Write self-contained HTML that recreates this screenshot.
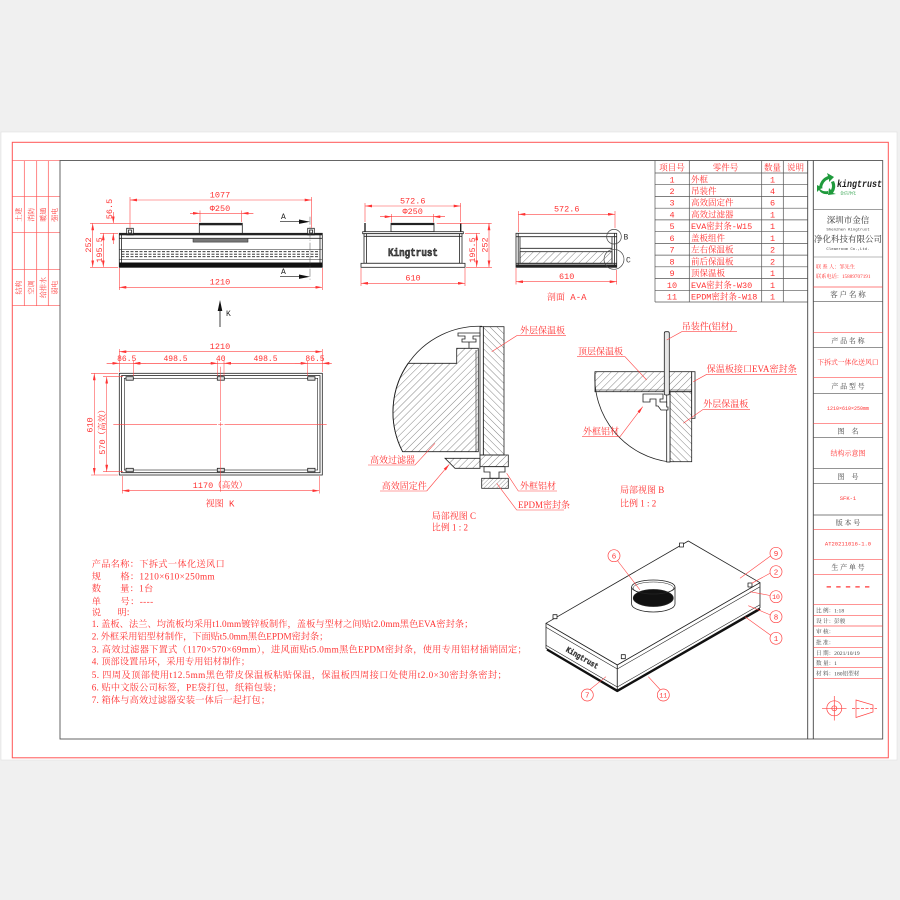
<!DOCTYPE html>
<html><head><meta charset="utf-8">
<style>
html,body{margin:0;padding:0;background:#f0f0f0;}
svg{display:block}
text{font-family:"Liberation Mono","Noto Serif CJK SC",monospace;}
.cj{font-family:"Liberation Serif","Noto Serif CJK SC",serif;}
</style></head><body>
<svg width="900" height="900" viewBox="0 0 900 900" xmlns="http://www.w3.org/2000/svg">
<defs>
<marker id="ar" viewBox="0 0 10 4" refX="10" refY="2" markerWidth="7" markerHeight="2.8" markerUnits="userSpaceOnUse" orient="auto-start-reverse"><path d="M0,0L10,2L0,4z" fill="#f33"/></marker>
<pattern id="hf" width="5" height="5" patternUnits="userSpaceOnUse" patternTransform="rotate(45)"><line x1="0" y1="0" x2="0" y2="5" stroke="#333" stroke-width="0.6"/></pattern>
<pattern id="hb" width="5" height="5" patternUnits="userSpaceOnUse" patternTransform="rotate(-45)"><line x1="0" y1="0" x2="0" y2="5" stroke="#333" stroke-width="0.6"/></pattern>
<pattern id="hs" width="3" height="3" patternUnits="userSpaceOnUse" patternTransform="rotate(45)"><line x1="0" y1="0" x2="0" y2="3" stroke="#333" stroke-width="0.5"/></pattern>
</defs>

<rect width="900" height="900" fill="#f0f0f0"/>
<rect x="1" y="132" width="896" height="628" fill="#fff" stroke="#e0e0e0" stroke-width="0.6"/>

<!-- frame -->
<rect x="12.3" y="142.3" width="876" height="615.5" fill="none" stroke="#f55" stroke-width="1"/>
<g stroke="#f55" stroke-width="0.7">
<line x1="12.3" y1="160.7" x2="60" y2="160.7"/>
<line x1="24.3" y1="160.7" x2="24.3" y2="305.7"/>
<line x1="36.7" y1="160.7" x2="36.7" y2="305.7"/>
<line x1="48.3" y1="160.7" x2="48.3" y2="305.7"/>
<line x1="12.3" y1="196.7" x2="60" y2="196.7"/>
<line x1="12.3" y1="232.7" x2="60" y2="232.7"/>
<line x1="12.3" y1="269.3" x2="60" y2="269.3"/>
<line x1="12.3" y1="305.7" x2="60" y2="305.7"/>
</g>
<g fill="#f33" font-size="7" text-anchor="middle" class="cj">
<text transform="translate(21,214.7) rotate(-90)" class="cj">土建</text>
<text transform="translate(33.3,214.7) rotate(-90)" class="cj">消防</text>
<text transform="translate(45.3,214.7) rotate(-90)" class="cj">暖通</text>
<text transform="translate(57,214.7) rotate(-90)" class="cj">强电</text>
<text transform="translate(21,287.5) rotate(-90)" class="cj">结构</text>
<text transform="translate(33.3,287.5) rotate(-90)" class="cj">空调</text>
<text transform="translate(45.3,287.5) rotate(-90)" class="cj">给排水</text>
<text transform="translate(57,287.5) rotate(-90)" class="cj">弱电</text>
</g>
<rect x="60" y="160.5" width="822.7" height="578.5" fill="none" stroke="#555" stroke-width="0.9"/>
<line x1="807.7" y1="160.5" x2="807.7" y2="739" stroke="#444" stroke-width="0.9"/>
<line x1="813.3" y1="160.5" x2="813.3" y2="739" stroke="#444" stroke-width="0.9"/>

<!-- parts table -->
<g stroke="#555" stroke-width="0.7">
<line x1="655" y1="160.7" x2="655" y2="302"/>
<line x1="689.3" y1="160.7" x2="689.3" y2="302"/>
<line x1="761.7" y1="160.7" x2="761.7" y2="302"/>
<line x1="783.3" y1="160.7" x2="783.3" y2="302"/>
<line x1="655" y1="173" x2="807.7" y2="173"/>
<line x1="655" y1="184.7" x2="807.7" y2="184.7"/>
<line x1="655" y1="196.5" x2="807.7" y2="196.5"/>
<line x1="655" y1="208.2" x2="807.7" y2="208.2"/>
<line x1="655" y1="219.9" x2="807.7" y2="219.9"/>
<line x1="655" y1="231.7" x2="807.7" y2="231.7"/>
<line x1="655" y1="243.4" x2="807.7" y2="243.4"/>
<line x1="655" y1="255.1" x2="807.7" y2="255.1"/>
<line x1="655" y1="266.8" x2="807.7" y2="266.8"/>
<line x1="655" y1="278.6" x2="807.7" y2="278.6"/>
<line x1="655" y1="290.3" x2="807.7" y2="290.3"/>
<line x1="655" y1="302" x2="807.7" y2="302"/>
</g>
<g fill="#f33" font-size="8.5" class="cj">
<text x="672" y="170.3" text-anchor="middle" class="cj">项目号</text>
<text x="725.5" y="170.3" text-anchor="middle" class="cj">零件号</text>
<text x="772.5" y="170.3" text-anchor="middle" class="cj">数量</text>
<text x="795.5" y="170.3" text-anchor="middle" class="cj">说明</text>
</g>
<g fill="#f33" font-size="8.5">
<g text-anchor="middle">
<text x="672" y="182.3">1</text><text x="672" y="194">2</text><text x="672" y="205.7">3</text><text x="672" y="217.4">4</text><text x="672" y="229.1">5</text><text x="672" y="240.9">6</text><text x="672" y="252.6">7</text><text x="672" y="264.3">8</text><text x="672" y="276">9</text><text x="672" y="287.8">10</text><text x="672" y="299.3">11</text>
<text x="772.5" y="182.3">1</text><text x="772.5" y="194">4</text><text x="772.5" y="205.7">6</text><text x="772.5" y="217.4">1</text><text x="772.5" y="229.1">1</text><text x="772.5" y="240.9">1</text><text x="772.5" y="252.6">2</text><text x="772.5" y="264.3">2</text><text x="772.5" y="276">1</text><text x="772.5" y="287.8">1</text><text x="772.5" y="299.3">1</text>
</g>
<text x="691" y="182.3">外框</text>
<text x="691" y="194">吊装件</text>
<text x="691" y="205.7">高效固定件</text>
<text x="691" y="217.4">高效过滤器</text>
<text x="691" y="229.1">EVA密封条-W15</text>
<text x="691" y="240.9">盖板组件</text>
<text x="691" y="252.6">左右保温板</text>
<text x="691" y="264.3">前后保温板</text>
<text x="691" y="276">顶保温板</text>
<text x="691" y="287.8">EVA密封条-W30</text>
<text x="691" y="299.3">EPDM密封条-W18</text>
</g>

<!-- title block -->
<path d="M819,188 q1,-9 9,-12 l-1,-3 l7,4 l-5,5 l0,-3 q-6,2 -7,9 z" fill="#1f9a3c"/>
<path d="M834,181 q3,6 -1,12 l3,1 l-8,1 l1,-7 l2,2 q2,-4 0,-8 z" fill="#1f9a3c"/>
<path d="M828,194 q-6,1 -9,-4 l-2,2 l0,-7 l6,3 l-3,1 q3,3 8,2 z" fill="#1f9a3c"/>
<text x="837" y="187" font-family="Liberation Sans" font-weight="bold" font-style="italic" font-size="10" fill="#222" textLength="45" lengthAdjust="spacingAndGlyphs">kingtrust</text>
<text x="840" y="194.5" font-size="4" fill="#1f9a3c" class="cj">金信净化</text>
<line x1="813.3" y1="209.7" x2="882.7" y2="209.7" stroke="#666" stroke-width="0.6"/>
<text x="848" y="223" font-size="8.5" fill="#333" text-anchor="middle" class="cj">深圳市金信</text>
<text x="848" y="230.5" font-size="4" fill="#444" text-anchor="middle">Shenzhen Kingtrust</text>
<text x="848" y="242" font-size="8.5" fill="#333" text-anchor="middle" class="cj" textLength="68" lengthAdjust="spacingAndGlyphs">净化科技有限公司</text>
<text x="848" y="250" font-size="4" fill="#444" text-anchor="middle">Cleanroom Co.,Ltd.</text>
<line x1="813.3" y1="257" x2="882.7" y2="257" stroke="#777" stroke-width="0.6"/>
<text x="816" y="268.5" font-size="5.2" fill="#f33" class="cj">联 系 人：邹先生</text>
<text x="816" y="278" font-size="5.2" fill="#f33" class="cj">联系电话：15889707191</text>
<line x1="813.3" y1="287" x2="882.7" y2="287" stroke="#f55" stroke-width="0.7"/>
<text x="848" y="297" font-size="7.5" fill="#444" text-anchor="middle" class="cj">客 户 名 称</text>
<line x1="813.3" y1="301.3" x2="882.7" y2="301.3" stroke="#555" stroke-width="0.7"/>

<g stroke-width="0.7">
<line x1="813.3" y1="332.7" x2="882.7" y2="332.7" stroke="#f55"/>
<line x1="813.3" y1="347.7" x2="882.7" y2="347.7" stroke="#555"/>
<line x1="813.3" y1="377.7" x2="882.7" y2="377.7" stroke="#f55"/>
<line x1="813.3" y1="393.3" x2="882.7" y2="393.3" stroke="#555"/>
<line x1="813.3" y1="423.3" x2="882.7" y2="423.3" stroke="#f55"/>
<line x1="813.3" y1="437.7" x2="882.7" y2="437.7" stroke="#555"/>
<line x1="813.3" y1="468.3" x2="882.7" y2="468.3" stroke="#555"/>
<line x1="813.3" y1="483.3" x2="882.7" y2="483.3" stroke="#555"/>
<line x1="813.3" y1="515" x2="882.7" y2="515" stroke="#555"/>
<line x1="813.3" y1="529.3" x2="882.7" y2="529.3" stroke="#f55"/>
<line x1="813.3" y1="559.3" x2="882.7" y2="559.3" stroke="#f55"/>
<line x1="813.3" y1="574.3" x2="882.7" y2="574.3" stroke="#f55"/>
<line x1="813.3" y1="604.3" x2="882.7" y2="604.3" stroke="#f55"/>
<line x1="813.3" y1="615.3" x2="882.7" y2="615.3" stroke="#f55"/>
<line x1="813.3" y1="626" x2="882.7" y2="626" stroke="#f55"/>
<line x1="813.3" y1="636.7" x2="882.7" y2="636.7" stroke="#f55"/>
<line x1="813.3" y1="647.3" x2="882.7" y2="647.3" stroke="#f55"/>
<line x1="813.3" y1="657.7" x2="882.7" y2="657.7" stroke="#f55"/>
<line x1="813.3" y1="667.7" x2="882.7" y2="667.7" stroke="#f55"/>
<line x1="813.3" y1="678.3" x2="882.7" y2="678.3" stroke="#f55"/>
</g>
<g font-size="7" fill="#444" text-anchor="middle" class="cj">
<text x="848" y="343" class="cj">产 品 名 称</text>
<text x="848" y="388.5" class="cj">产 品 型 号</text>
<text x="848" y="433.5" class="cj">图　名</text>
<text x="848" y="479" class="cj">图　号</text>
<text x="848" y="525" class="cj">版 本 号</text>
<text x="848" y="569.5" class="cj">生 产 单 号</text>
</g>
<g fill="#f33" text-anchor="middle">
<text x="848" y="364.5" font-size="6.8" class="cj">下拆式一体化送风口</text>
<text x="848" y="410" font-size="5">1210×610×250mm</text>
<text x="848" y="455.5" font-size="7" class="cj">结构示意图</text>
<text x="848" y="500" font-size="5.5">SFK-1</text>
<text x="848" y="545.5" font-size="5.5">AT20211016-1.0</text>
<text x="848" y="591">-----</text>
</g>
<g font-size="5.6" fill="#444" class="cj">
<text x="816" y="612.3" class="cj">比 例：1:18</text>
<text x="816" y="623" class="cj">设 计：彭骏</text>
<text x="816" y="633.7" class="cj">审 核：</text>
<text x="816" y="644.3" class="cj">批 准：</text>
<text x="816" y="654.8" class="cj">日 期：2021/10/19</text>
<text x="816" y="664.8" class="cj">数 量：1</text>
<text x="816" y="675.5" class="cj">材 料：180铝型材</text>
</g>
<g stroke="#f44" stroke-width="0.7" fill="none">
<circle cx="834.3" cy="708.3" r="7.5"/>
<circle cx="834.3" cy="708.3" r="2.5"/>
<line x1="822" y1="708.3" x2="846.5" y2="708.3"/>
<line x1="834.3" y1="696" x2="834.3" y2="720.5"/>
<polygon points="856,700 873,705 873,712 856,717.5"/>
<line x1="852" y1="708.5" x2="877" y2="708.5" stroke-dasharray="3 1.5"/>
</g>

<!-- ============ front view ============ -->
<g stroke="#222" stroke-width="0.8" fill="none">
<rect x="119.3" y="233.3" width="203" height="34" fill="#fff"/>
<line x1="121.5" y1="235" x2="121.5" y2="263"/>
<line x1="320" y1="235" x2="320" y2="263"/>
<line x1="119.3" y1="238.3" x2="322.3" y2="238.3"/>
<line x1="119.3" y1="249.5" x2="322.3" y2="249.5" stroke-width="0.5"/>
<line x1="121.5" y1="251.7" x2="320" y2="251.7" stroke-dasharray="3 1.5"/>
<line x1="121.5" y1="254.2" x2="320" y2="254.2" stroke-dasharray="3 1.5"/>
<line x1="121.5" y1="256.7" x2="320" y2="256.7" stroke-dasharray="3 1.5"/>
<line x1="119.3" y1="259.5" x2="322.3" y2="259.5" stroke-width="0.5"/>
<rect x="199.3" y="223.3" width="43" height="10" fill="#fff"/>
<rect x="126.7" y="228.3" width="6.6" height="6.6" fill="#fff"/>
<rect x="128.5" y="230" width="3" height="3"/>
<rect x="307.7" y="228.3" width="6.6" height="6.6" fill="#fff"/>
<rect x="309.5" y="230" width="3" height="3"/>
</g>
<rect x="119.3" y="233.3" width="203" height="2" fill="#222"/>
<rect x="119.3" y="262.5" width="203" height="4.8" fill="#111"/>
<rect x="199.3" y="223.3" width="43" height="2" fill="#222"/>
<rect x="193" y="238.3" width="55" height="3.8" fill="#777" stroke="#222" stroke-width="0.5"/>

<!-- section marks -->
<line x1="310" y1="216.7" x2="310" y2="281.7" stroke="#555" stroke-width="0.5" stroke-dasharray="8 2 1 2"/>
<line x1="280" y1="221.7" x2="302" y2="221.7" stroke="#111" stroke-width="0.7"/>
<polygon points="299,219.5 310,221.7 299,223.9" fill="#111"/>
<line x1="280" y1="276.7" x2="302" y2="276.7" stroke="#111" stroke-width="0.7"/>
<polygon points="299,274.5 310,276.7 299,278.9" fill="#111"/>
<text x="281" y="219" font-size="8" fill="#222">A</text>
<text x="281" y="274" font-size="8" fill="#222">A</text>
<line x1="220" y1="305" x2="220" y2="327" stroke="#111" stroke-width="0.8"/>
<polygon points="220,300 217.7,311 222.3,311" fill="#111"/>
<text x="226" y="316" font-size="8" fill="#222">K</text>

<!-- front dims -->
<g stroke="#f44" stroke-width="0.6" fill="none">
<line x1="130" y1="200" x2="311.7" y2="200" marker-start="url(#ar)" marker-end="url(#ar)"/>
<line x1="130" y1="197" x2="130" y2="228"/>
<line x1="311.7" y1="197" x2="311.7" y2="228"/>
<line x1="190" y1="213.3" x2="253.3" y2="213.3"/>
<line x1="190" y1="213.3" x2="200" y2="213.3" marker-end="url(#ar)"/>
<line x1="253.3" y1="213.3" x2="241.7" y2="213.3" marker-end="url(#ar)"/>
<line x1="200" y1="210.5" x2="200" y2="222"/>
<line x1="241.7" y1="210.5" x2="241.7" y2="222"/>
<line x1="90" y1="223.3" x2="198" y2="223.3"/>
<line x1="100" y1="233.3" x2="118" y2="233.3"/>
<line x1="90" y1="267.3" x2="118" y2="267.3"/>
<line x1="92.7" y1="223.3" x2="92.7" y2="267.3" marker-start="url(#ar)" marker-end="url(#ar)"/>
<line x1="103.3" y1="233.3" x2="103.3" y2="267.3" marker-start="url(#ar)" marker-end="url(#ar)"/>
<line x1="113.3" y1="212" x2="113.3" y2="223.3" marker-end="url(#ar)"/>
<line x1="113.3" y1="244" x2="113.3" y2="233.3" marker-end="url(#ar)"/>
<line x1="119.3" y1="268" x2="119.3" y2="290"/>
<line x1="322.3" y1="268" x2="322.3" y2="290"/>
<line x1="119.3" y1="287.3" x2="322.3" y2="287.3" marker-start="url(#ar)" marker-end="url(#ar)"/>
</g>
<g fill="#f33" font-size="8.5" text-anchor="middle">
<text x="220" y="197.5">1077</text>
<text x="220" y="210.8">Φ250</text>
<text x="220" y="284.6">1210</text>
<text transform="translate(91.2,245) rotate(-90)">252</text>
<text transform="translate(102,250) rotate(-90)">195.5</text>
<text transform="translate(112,209) rotate(-90)">56.5</text>
</g>

<!-- ============ side view ============ -->
<g stroke="#222" stroke-width="0.8" fill="none">
<rect x="391" y="223.3" width="43" height="8.4" fill="#fff"/>
<rect x="362.7" y="231.7" width="100.6" height="2" fill="#fff"/>
<rect x="364" y="233.7" width="98" height="29.6" fill="#fff"/>
<line x1="366.5" y1="233.7" x2="366.5" y2="263.3"/>
<line x1="459.5" y1="233.7" x2="459.5" y2="263.3"/>
<line x1="364" y1="236.3" x2="462" y2="236.3"/>
<rect x="361" y="263.3" width="104" height="4" fill="#fff"/>
</g>
<rect x="391" y="223.3" width="43" height="1.8" fill="#222"/>
<rect x="364.3" y="223" width="1.4" height="9" fill="#222"/>
<rect x="460" y="223" width="1.4" height="9" fill="#222"/>
<text x="413" y="256" font-family="Liberation Sans" font-weight="bold" font-size="11" fill="#555" stroke="#111" stroke-width="0.5" text-anchor="middle" textLength="50" lengthAdjust="spacingAndGlyphs">Kingtrust</text>
<g stroke="#f44" stroke-width="0.6" fill="none">
<line x1="365" y1="206" x2="460.7" y2="206" marker-start="url(#ar)" marker-end="url(#ar)"/>
<line x1="365" y1="203" x2="365" y2="222"/>
<line x1="460.7" y1="203" x2="460.7" y2="222"/>
<line x1="380" y1="216.7" x2="445" y2="216.7"/>
<line x1="380" y1="216.7" x2="391.7" y2="216.7" marker-end="url(#ar)"/>
<line x1="445" y1="216.7" x2="433.3" y2="216.7" marker-end="url(#ar)"/>
<line x1="391.7" y1="214" x2="391.7" y2="222.5"/>
<line x1="433.3" y1="214" x2="433.3" y2="222.5"/>
<line x1="436.7" y1="223.3" x2="491.7" y2="223.3"/>
<line x1="465" y1="233.3" x2="480" y2="233.3"/>
<line x1="466" y1="267.3" x2="492" y2="267.3"/>
<line x1="476.7" y1="233.3" x2="476.7" y2="267.3" marker-start="url(#ar)" marker-end="url(#ar)"/>
<line x1="489" y1="223.3" x2="489" y2="267.3" marker-start="url(#ar)" marker-end="url(#ar)"/>
<line x1="361" y1="268" x2="361" y2="286"/>
<line x1="465" y1="268" x2="465" y2="286"/>
<line x1="361" y1="283.3" x2="465" y2="283.3" marker-start="url(#ar)" marker-end="url(#ar)"/>
</g>
<g fill="#f33" font-size="8.5" text-anchor="middle">
<text x="412.7" y="203.5">572.6</text>
<text x="412.7" y="214">Φ250</text>
<text x="413" y="280.5">610</text>
<text transform="translate(475,250) rotate(-90)">195.5</text>
<text transform="translate(487.5,245) rotate(-90)">252</text>
</g>

<!-- ============ section A-A ============ -->
<g stroke="#222" stroke-width="0.8" fill="none">
<rect x="516" y="233.3" width="100.7" height="34" fill="#fff"/>
<rect x="520" y="251.7" width="92" height="11.6" fill="url(#hf)"/>
<line x1="516" y1="236.7" x2="616.7" y2="236.7"/>
<line x1="520" y1="248.3" x2="612" y2="248.3"/>
<line x1="516" y1="263.3" x2="616.7" y2="263.3"/>
<line x1="518.2" y1="233.3" x2="518.2" y2="267.3"/>
<line x1="520" y1="236.7" x2="520" y2="263.3"/>
<line x1="612" y1="236.7" x2="612" y2="263.3"/>
<line x1="614.5" y1="233.3" x2="614.5" y2="267.3"/>
</g>
<rect x="516" y="264.5" width="100.7" height="2.8" fill="#222"/>
<g stroke="#444" stroke-width="0.7" fill="none">
<circle cx="614" cy="236.7" r="7.3"/>
<circle cx="614" cy="259.3" r="10"/>
</g>
<text x="623.5" y="239.5" font-size="8" fill="#333">B</text>
<text x="626" y="262.5" font-size="8" fill="#333">C</text>
<g stroke="#f44" stroke-width="0.6" fill="none">
<line x1="518.3" y1="214.3" x2="615" y2="214.3" marker-start="url(#ar)" marker-end="url(#ar)"/>
<line x1="518.3" y1="211" x2="518.3" y2="232"/>
<line x1="615" y1="211" x2="615" y2="228"/>
<line x1="516" y1="268" x2="516" y2="284.5"/>
<line x1="616.7" y1="270" x2="616.7" y2="284.5"/>
<line x1="516" y1="281.7" x2="616.7" y2="281.7" marker-start="url(#ar)" marker-end="url(#ar)"/>
</g>
<g fill="#f33" font-size="8.5" text-anchor="middle">
<text x="566.7" y="211.5">572.6</text>
<text x="566.7" y="279">610</text>
<text x="566.7" y="300" font-size="9">剖面 A-A</text>
</g>

<!-- ============ view K ============ -->
<g stroke="#222" stroke-width="0.8" fill="none">
<rect x="119.3" y="373.3" width="203" height="101.7" fill="#fff"/>
<rect x="121.6" y="375.6" width="198.4" height="97.1"/>
<rect x="124.3" y="378.3" width="193.4" height="91.7" stroke-width="0.6"/>
<rect x="126" y="376.7" width="7.3" height="3.5" fill="#ddd"/>
<rect x="217.3" y="376.7" width="7" height="3.5" fill="#ddd"/>
<rect x="307.7" y="376.7" width="7.3" height="3.5" fill="#ddd"/>
<rect x="126" y="468.3" width="7.3" height="3.5" fill="#ddd"/>
<rect x="217.3" y="468.3" width="7" height="3.5" fill="#ddd"/>
<rect x="307.7" y="468.3" width="7.3" height="3.5" fill="#ddd"/>
</g>
<g stroke="#f44" stroke-width="0.55" fill="none">
<line x1="113.3" y1="424.3" x2="217" y2="424.3"/>
<line x1="224.5" y1="424.3" x2="326.7" y2="424.3"/>
<line x1="218.2" y1="424.3" x2="223.2" y2="424.3"/>
<line x1="220.7" y1="366.7" x2="220.7" y2="421"/>
<line x1="220.7" y1="427.5" x2="220.7" y2="491.7"/>
<line x1="220.7" y1="422.3" x2="220.7" y2="426.3"/>
<line x1="119.3" y1="351.7" x2="322.3" y2="351.7" marker-start="url(#ar)" marker-end="url(#ar)"/>
<line x1="119.3" y1="349" x2="119.3" y2="372"/>
<line x1="322.3" y1="349" x2="322.3" y2="372"/>
<line x1="106.7" y1="363.3" x2="331.7" y2="363.3"/>
<line x1="106.7" y1="363.3" x2="119.3" y2="363.3" marker-end="url(#ar)"/>
<line x1="146" y1="363.3" x2="133.3" y2="363.3" marker-end="url(#ar)"/>
<line x1="133.3" y1="363.3" x2="217.7" y2="363.3" marker-start="url(#ar)" marker-end="url(#ar)"/>
<line x1="224" y1="363.3" x2="307.7" y2="363.3" marker-start="url(#ar)" marker-end="url(#ar)"/>
<line x1="295" y1="363.3" x2="307.7" y2="363.3"/>
<line x1="331.7" y1="363.3" x2="322.3" y2="363.3" marker-end="url(#ar)"/>
<line x1="133.3" y1="360.5" x2="133.3" y2="376"/>
<line x1="217.7" y1="360.5" x2="217.7" y2="376"/>
<line x1="224" y1="360.5" x2="224" y2="376"/>
<line x1="307.7" y1="360.5" x2="307.7" y2="376"/>
<line x1="91" y1="373.3" x2="118" y2="373.3"/>
<line x1="91" y1="475" x2="118" y2="475"/>
<line x1="103" y1="376.7" x2="123" y2="376.7"/>
<line x1="103" y1="471.7" x2="123" y2="471.7"/>
<line x1="94.3" y1="373.3" x2="94.3" y2="475" marker-start="url(#ar)" marker-end="url(#ar)"/>
<line x1="106.7" y1="376.7" x2="106.7" y2="471.7" marker-start="url(#ar)" marker-end="url(#ar)"/>
<line x1="122.3" y1="476" x2="122.3" y2="493.5"/>
<line x1="319.3" y1="476" x2="319.3" y2="493.5"/>
<line x1="122.3" y1="490.7" x2="319.3" y2="490.7" marker-start="url(#ar)" marker-end="url(#ar)"/>
</g>
<g fill="#f33" font-size="8.5" text-anchor="middle">
<text x="220" y="349">1210</text>
<text x="126.7" y="360.8" font-size="8">86.5</text>
<text x="175.5" y="360.8" font-size="8">498.5</text>
<text x="220.7" y="360.8" font-size="8">40</text>
<text x="265.5" y="360.8" font-size="8">498.5</text>
<text x="315" y="360.8" font-size="8">86.5</text>
<text transform="translate(92.5,425) rotate(-90)">610</text>
<text transform="translate(104.8,430) rotate(-90)">570（高效）</text>
<text x="220" y="488">1170（高效）</text>
<text x="220" y="506.5" font-size="9">视图 K</text>
</g>

<!-- ============ detail C ============ -->
<g stroke="#222" stroke-width="0.8">
<path d="M482,326.3 A86,86 0 0 0 402.6,451.7" fill="none"/>
<path d="M408,363.3 L456.7,363.3 L456.7,348.3 L478.3,348.3 L478.3,451.7 L402.6,451.7 A86,86 0 0 1 408,363.3 Z" fill="url(#hf)"/>
<line x1="476" y1="350" x2="476" y2="451.7" stroke-width="0.6"/>
<rect x="483.3" y="326.7" width="20.7" height="128.3" fill="url(#hb)"/>
<rect x="480" y="326.7" width="3.3" height="128.3" fill="#fff"/>
<path d="M458,333 L480,333 L480,336 L473,336 L473,339 L476,339 L476,342 L462,342 L462,339 L465,339 L465,336 L458,336 Z" fill="#fff"/>
<line x1="469" y1="342" x2="469" y2="348.3"/>
<polygon points="445,458.3 480,458.3 480,468.3 455,468.3" fill="url(#hf)"/>
<rect x="480" y="455" width="28.3" height="11.7" fill="url(#hf)"/>
<path d="M484,466.7 L505,466.7 L505,472 L499,472 L499,478.3 L490,478.3 L490,472 L484,472 Z" fill="#fff"/>
<rect x="481.7" y="478.3" width="26.6" height="10" fill="url(#hs)"/>
</g>
<g stroke="#f44" stroke-width="0.6" fill="none">
<polyline points="566,335.7 516.7,335.7 491.7,351.7"/>
<polyline points="368,465 415,465 435,443.3"/>
<line x1="380" y1="491" x2="426.7" y2="491"/>
<line x1="426.7" y1="491" x2="449.3" y2="464.3" marker-end="url(#ar)"/>
<polyline points="557,491 518.3,491 506.7,473.3"/>
<polyline points="564,510 516.7,510 496.7,483.3"/>
</g>
<g fill="#f33" font-size="9" class="cj">
<text x="520" y="333.3" class="cj">外层保温板</text>
<text x="370" y="463" class="cj">高效过滤器</text>
<text x="381.7" y="489" class="cj">高效固定件</text>
<text x="520" y="489" class="cj">外框铝材</text>
<text x="518" y="508" class="cj">EPDM密封条</text>
<text x="431.7" y="519" class="cj">局部视图 C</text>
<text x="431.7" y="530.5" class="cj">比例 1 : 2</text>
</g>

<!-- ============ detail B ============ -->
<g stroke="#222" stroke-width="0.8">
<path d="M595,371.7 A85,85 0 0 0 670,462" fill="none"/>
<rect x="595" y="371.7" width="96.7" height="20" fill="url(#hf)"/>
<line x1="595" y1="390" x2="691.7" y2="390" stroke-width="0.5"/>
<rect x="670" y="391.7" width="21.7" height="70" fill="url(#hb)"/>
<rect x="691.7" y="371.7" width="3.3" height="46.6" fill="#fff"/>
<rect x="666.7" y="391.7" width="3.3" height="70.3" fill="#fff"/>
<rect x="664.3" y="331.7" width="5" height="63.3" rx="1.5" fill="#e6e6e6"/>
<path d="M643,394 L663,394 L663,399 L660,399 L660,402 L666.7,402 L666.7,407 L668,407 L668,410 L661,410 L658,406 L656,406 L656,399 L650,399 L650,402 L643,402 Z" fill="#fff"/>
</g>
<g stroke="#f44" stroke-width="0.6" fill="none">
<polyline points="737,331.7 681.7,331.7 666.7,340"/>
<polyline points="577,356.7 625,356.7 646.7,380"/>
<polyline points="797,374.3 706.7,374.3 693.3,381.7"/>
<polyline points="750,409.3 703.3,409.3 683.3,423.3"/>
<line x1="582" y1="436.7" x2="620" y2="436.7"/>
<line x1="620" y1="436.7" x2="642.7" y2="406.7" marker-end="url(#ar)"/>
</g>
<g fill="#f33" font-size="9" class="cj">
<text x="681.7" y="329.5" class="cj">吊装件(铝材)</text>
<text x="578" y="354.5" class="cj">顶层保温板</text>
<text x="706.7" y="372" class="cj" textLength="90" lengthAdjust="spacingAndGlyphs">保温板接口EVA密封条</text>
<text x="703.3" y="407" class="cj">外层保温板</text>
<text x="583" y="434.5" class="cj">外框铝材</text>
<text x="620" y="493" class="cj">局部视图 B</text>
<text x="620" y="506.5" class="cj">比例 1 : 2</text>
</g>

<!-- ============ notes ============ -->
<g fill="#f33" font-size="9.2" class="cj">
<text x="91.7" y="567" class="cj" textLength="133" lengthAdjust="spacing">产品名称：下拆式一体化送风口</text>
<text x="91.7" y="579.3" class="cj" textLength="123" lengthAdjust="spacing">规　　格：1210×610×250mm</text>
<text x="91.7" y="591.3" class="cj" textLength="61.5" lengthAdjust="spacing">数　　量：1台</text>
<text x="91.7" y="604.3" class="cj" textLength="61.5" lengthAdjust="spacing">单　　号：----</text>
<text x="91.7" y="615.3" class="cj" textLength="43.5" lengthAdjust="spacing">说　　明：</text>
<text x="91.7" y="627" class="cj" textLength="381.6" lengthAdjust="spacing">1. 盖板、法兰、均流板均采用t1.0mm镀锌板制作，盖板与型材之间贴t2.0mm黑色EVA密封条；</text>
<text x="91.7" y="639.6" class="cj" textLength="236.6" lengthAdjust="spacing">2. 外框采用铝型材制作，下面贴t5.0mm黑色EPDM密封条；</text>
<text x="91.7" y="652.6" class="cj" textLength="435" lengthAdjust="spacing">3. 高效过滤器下置式（1170×570×69mm），进风面贴t5.0mm黑色EPDM密封条，使用专用铝材插销固定；</text>
<text x="91.7" y="664.6" class="cj" textLength="158.3" lengthAdjust="spacing">4. 顶部设置吊环，采用专用铝材制作；</text>
<text x="91.7" y="678" class="cj" textLength="415" lengthAdjust="spacing">5. 四周及顶部使用t12.5mm黑色带皮保温板粘贴保温，保温板四周接口处使用t2.0×30密封条密封；</text>
<text x="91.7" y="690.3" class="cj" textLength="190" lengthAdjust="spacing">6. 贴中文版公司标签，PE袋打包，纸箱包装；</text>
<text x="91.7" y="703" class="cj" textLength="178.3" lengthAdjust="spacing">7. 箱体与高效过滤器安装一体后一起打包；</text>
</g>

<!-- ============ isometric ============ -->
<g stroke="#222" stroke-width="0.8" stroke-linejoin="round">
<polygon points="546,623.3 688.3,541 760,582.7 617.3,665" fill="#fff"/>
<polygon points="546,623.3 617.3,665 617.3,690 546,648.3" fill="#fff"/>
<polygon points="617.3,665 760,582.7 760,607.7 617.3,690" fill="#fff"/>
<polyline points="546,627.3 617.3,669 760,586.7" fill="none" stroke-width="0.6"/>
<polyline points="546,645.3 617.3,687 760,604.7" fill="none" stroke-width="0.6"/>
<polyline points="547,649.5 617.3,691 760,609" fill="none" stroke="#111" stroke-width="2.2"/>
<path d="M631.6,587 L631.6,604 A21.7,8 0 0 0 675,604 L675,587" fill="#fff"/>
<ellipse cx="653.3" cy="598" rx="20" ry="8.5" fill="#111"/>
<ellipse cx="653.3" cy="587" rx="21.7" ry="7" fill="none"/>
<ellipse cx="653.3" cy="588" rx="20.2" ry="6" fill="none" stroke-width="0.5"/>
<rect x="679.5" y="543" width="4" height="4" fill="#fff"/>
<rect x="553" y="614.7" width="4" height="4" fill="#fff"/>
<rect x="621.3" y="654.7" width="4" height="4" fill="#fff"/>
<rect x="748" y="583" width="4" height="4" fill="#fff"/>
</g>
<text transform="translate(581,660) rotate(30)" font-family="Liberation Sans" font-weight="bold" font-size="8" fill="#444" stroke="#111" stroke-width="0.3" text-anchor="middle" textLength="36" lengthAdjust="spacingAndGlyphs">Kingtrust</text>
<g stroke="#f44" stroke-width="0.6" fill="none">
<line x1="617" y1="560" x2="640" y2="590"/>
<line x1="770.5" y1="556" x2="740" y2="578.3"/>
<line x1="770.5" y1="573" x2="751.7" y2="583.3"/>
<line x1="770" y1="595.5" x2="750" y2="591.7"/>
<line x1="770.5" y1="615" x2="748.3" y2="605.7"/>
<line x1="771" y1="635.5" x2="745" y2="616.7"/>
<line x1="590" y1="689.5" x2="606" y2="676.7"/>
<line x1="660" y1="689.5" x2="648.3" y2="676.7"/>
</g>
<g stroke="#f44" stroke-width="0.7" fill="#fff">
<circle cx="614" cy="555.7" r="6"/>
<circle cx="776" cy="553.3" r="6"/>
<circle cx="776" cy="571.7" r="6"/>
<circle cx="776" cy="596.7" r="6"/>
<circle cx="776" cy="616.7" r="6"/>
<circle cx="776" cy="638.3" r="6"/>
<circle cx="587.3" cy="695" r="6"/>
<circle cx="663.3" cy="695" r="6"/>
</g>
<g fill="#f33" font-size="7.5" text-anchor="middle">
<text x="614" y="558.4">6</text>
<text x="776" y="556">9</text>
<text x="776" y="574.4">2</text>
<text x="776" y="599.2" font-size="6.5">10</text>
<text x="776" y="619.4">8</text>
<text x="776" y="641">1</text>
<text x="587.3" y="697.7">7</text>
<text x="663.3" y="697.5" font-size="6.5">11</text>
</g>
</svg>
</body></html>
